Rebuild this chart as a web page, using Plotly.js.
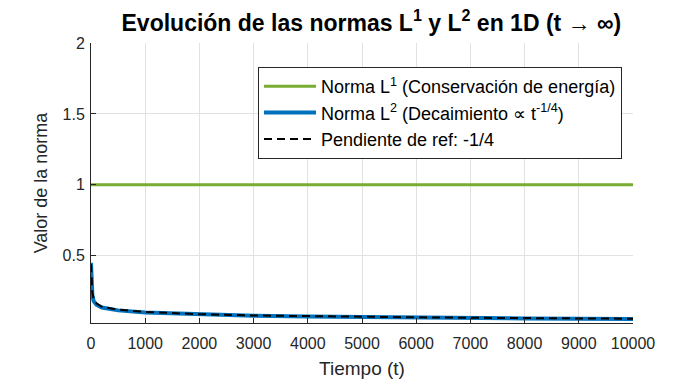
<!DOCTYPE html>
<html><head><meta charset="utf-8">
<script src="https://cdn.plot.ly/plotly-3.0.1.min.js"></script>
<style>html,body{margin:0;padding:0;background:#fff;}#chart{width:700px;height:380px;}</style>
</head><body><div id="chart"></div>
<script>
// Data
const tL1 = [0, 10000];
const normL1 = [1, 1];
const tL2 = [0, 5, 10, 25, 50, 100, 200, 500, 1000, 2000, 3000, 4000, 5000, 6000, 7000, 8000, 9000, 10000];
const normL2 = [0.45, 0.36, 0.30, 0.22, 0.18, 0.155, 0.135, 0.115, 0.100, 0.085, 0.077, 0.072, 0.067, 0.064, 0.061, 0.058, 0.056, 0.054];
const tRef = [0, 5, 10, 25, 50, 100, 200, 500, 1000, 2000, 3000, 4000, 5000, 6000, 7000, 8000, 9000, 10000];
const normRef = [0.44, 0.36, 0.31, 0.24, 0.195, 0.165, 0.14, 0.12, 0.104, 0.088, 0.079, 0.073, 0.069, 0.066, 0.063, 0.060, 0.058, 0.056];
const xTicks = [0, 1000, 2000, 3000, 4000, 5000, 6000, 7000, 8000, 9000, 10000];
const xTickText = ['0', '1000', '2000', '3000', '4000', '5000', '6000', '7000', '8000', '9000', '10000'];
const yTicks = [0.5, 1, 1.5, 2];
const yTickText = ['0.5', '1', '1.5', '2'];

const FONT = 'Liberation Sans, Arial, Helvetica, sans-serif';
const traces = [
  {x: tL1, y: normL1, mode: 'lines', name: 'Norma L<sup>1</sup> (Conservación de energía)',
   line: {color: '#77AC30', width: 3}},
  {x: tL2, y: normL2, mode: 'lines', name: 'Norma L<sup>2</sup> (Decaimiento ∝ t<sup>-1/4</sup>)',
   line: {color: '#0072BD', width: 4}},
  {x: tRef, y: normRef, mode: 'lines', name: 'Pendiente de ref: -1/4',
   line: {color: '#000000', width: 2, dash: '8px,5px'}}
];
const axisCommon = {
  showline: true, linecolor: '#262626', linewidth: 1, mirror: false,
  ticks: 'inside', ticklen: 5, tickcolor: '#262626', tickwidth: 1,
  showgrid: true, gridcolor: '#e2e2e2', gridwidth: 1, zeroline: false,
  tickfont: {family: FONT, size: 16, color: '#262626'}
};
const layout = {
  width: 700, height: 380,
  margin: {l: 91, r: 67, t: 43, b: 57},
  paper_bgcolor: '#ffffff', plot_bgcolor: '#ffffff',
  font: {family: FONT, color: '#262626'},
  title: {text: '<b>Evolución de las normas L<sup>1</sup> y L<sup>2</sup> en 1D (t → ∞)</b>',
          font: {family: FONT, size: 23, color: '#000000'},
          x: 362/700, xanchor: 'center', xref: 'paper', yref: 'container', y: 0.94, yanchor: 'middle'},
  xaxis: Object.assign({}, axisCommon, {range: [0, 10000], tickvals: xTicks, ticktext: xTickText,
          ticklabelstandoff: 6,
          title: {text: 'Tiempo (t)', font: {family: FONT, size: 19, color: '#262626'}, standoff: 10}}),
  yaxis: Object.assign({}, axisCommon, {range: [0.026, 2], tickvals: yTicks, ticktext: yTickText,
          ticklabelstandoff: 2,
          title: {text: 'Valor de la norma', font: {family: FONT, size: 18, color: '#262626'}, standoff: 10}}),
  showlegend: true,
  legend: {x: (258-91)/542, y: 1 - (67-43)/280, xanchor: 'left', yanchor: 'top',
           bgcolor: '#ffffff', bordercolor: '#262626', borderwidth: 1,
           font: {family: FONT, size: 18, color: '#000000'}, tracegroupgap: 0, itemwidth: 52}
};
Plotly.newPlot('chart', traces, layout, {staticPlot: true, displayModeBar: false});
</script></body></html>
